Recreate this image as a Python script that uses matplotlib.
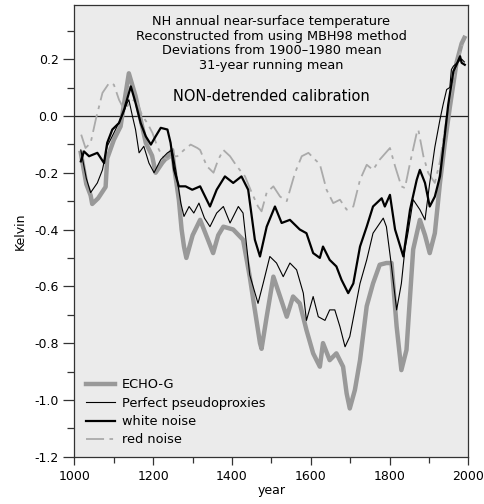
import matplotlib
matplotlib.use("Agg")
import matplotlib.pyplot as plt
from matplotlib.ticker import MultipleLocator

plt.rcParams['font.family'] = ['DejaVu Sans']

# ECHO-G model (thick grey)
echo_year = [1016, 1030, 1041, 1045, 1060, 1079, 1083, 1100, 1117, 1130, 1138, 1155, 1168,
             1181, 1197, 1206, 1223, 1240, 1248, 1253, 1265, 1272, 1278, 1284, 1300, 1319,
             1340, 1352, 1365, 1378, 1403, 1428, 1445, 1454, 1471, 1475, 1488, 1505, 1522,
             1539, 1555, 1572, 1589, 1606, 1623, 1631, 1648, 1665, 1682, 1691, 1699, 1712,
             1725, 1742, 1758, 1775, 1792, 1805, 1818, 1830, 1843, 1852, 1860, 1877, 1890,
             1902, 1915, 1928, 1940, 1953, 1970, 1983, 1990]
echo_val = [-0.13, -0.24, -0.28, -0.31, -0.29, -0.25, -0.15, -0.084, -0.037, 0.08, 0.15, 0.07,
            -0.013, -0.095, -0.14, -0.2, -0.165, -0.137, -0.12, -0.18, -0.295, -0.40, -0.46,
            -0.50, -0.42, -0.366, -0.44, -0.483, -0.42, -0.39, -0.40, -0.436, -0.566, -0.648,
            -0.80, -0.82, -0.707, -0.566, -0.636, -0.707, -0.636, -0.66, -0.754, -0.836, -0.883,
            -0.80, -0.86, -0.836, -0.883, -0.977, -1.03, -0.965, -0.86, -0.67, -0.59, -0.524,
            -0.518, -0.518, -0.742, -0.895, -0.824, -0.636, -0.47, -0.366, -0.42, -0.483,
            -0.413, -0.236, -0.10, 0.03, 0.187, 0.255, 0.275]

# Perfect pseudoproxies (thin black)
perf_year = [1016, 1030, 1041, 1058, 1071, 1083, 1100, 1121, 1134, 1138, 1147, 1155, 1164,
             1176, 1189, 1202, 1219, 1236, 1248, 1257, 1270, 1278, 1291, 1303, 1316, 1330,
             1344, 1361, 1378, 1395, 1416, 1428, 1445, 1466, 1479, 1496, 1513, 1530, 1547,
             1564, 1581, 1589, 1606, 1619, 1636, 1648, 1661, 1674, 1687, 1699, 1712, 1725,
             1742, 1758, 1784, 1792, 1805, 1818, 1830, 1839, 1847, 1860, 1877, 1890, 1902,
             1915, 1928, 1936, 1945, 1953, 1957, 1962, 1974, 1983, 1990]
perf_val = [-0.12, -0.22, -0.27, -0.236, -0.19, -0.107, -0.06, 0.0, 0.046, 0.057, 0.0, -0.048,
            -0.13, -0.107, -0.166, -0.2, -0.154, -0.13, -0.12, -0.19, -0.307, -0.354, -0.319,
            -0.342, -0.307, -0.36, -0.39, -0.342, -0.319, -0.377, -0.319, -0.342, -0.56, -0.66,
            -0.59, -0.495, -0.518, -0.566, -0.518, -0.542, -0.624, -0.72, -0.636, -0.707, -0.72,
            -0.683, -0.683, -0.742, -0.813, -0.777, -0.683, -0.59, -0.507, -0.413, -0.36, -0.39,
            -0.53, -0.683, -0.59, -0.47, -0.41, -0.295, -0.33, -0.366, -0.236, -0.11, -0.013,
            0.04, 0.093, 0.10, 0.163, 0.175, 0.19, 0.20, 0.19]

# white noise (thick black)
white_year = [1016, 1024, 1037, 1058, 1075, 1083, 1096, 1113, 1126, 1143, 1155, 1168, 1181,
              1194, 1206, 1219, 1236, 1244, 1253, 1265, 1282, 1299, 1319, 1344, 1361, 1382,
              1403, 1424, 1441, 1458, 1471, 1488, 1509, 1526, 1547, 1572, 1589, 1606, 1623,
              1631, 1648, 1665, 1678, 1695, 1708, 1725, 1742, 1758, 1780, 1788, 1801, 1814,
              1835, 1852, 1869, 1877, 1890, 1902, 1915, 1928, 1940, 1949, 1962, 1970, 1979,
              1983, 1991]
white_val = [-0.16, -0.125, -0.142, -0.13, -0.166, -0.095, -0.048, -0.025, 0.022, 0.104, 0.046,
             -0.025, -0.072, -0.101, -0.072, -0.042, -0.048, -0.095, -0.19, -0.248, -0.248,
             -0.26, -0.248, -0.319, -0.26, -0.213, -0.236, -0.213, -0.26, -0.436, -0.495, -0.39,
             -0.319, -0.377, -0.366, -0.40, -0.413, -0.483, -0.50, -0.46, -0.507, -0.53, -0.577,
             -0.624, -0.59, -0.46, -0.39, -0.319, -0.29, -0.319, -0.278, -0.40, -0.495, -0.33,
             -0.225, -0.19, -0.236, -0.319, -0.284, -0.213, -0.07, 0.04, 0.157, 0.18, 0.21,
             0.187, 0.18]

# red noise (grey dash-dot)
red_year = [1017, 1028, 1041, 1054, 1071, 1088, 1100, 1113, 1126, 1134, 1147, 1160, 1172,
            1185, 1198, 1210, 1223, 1236, 1248, 1261, 1278, 1295, 1312, 1319, 1336, 1353,
            1365, 1378, 1395, 1412, 1433, 1450, 1466, 1475, 1488, 1505, 1522, 1539, 1560,
            1577, 1594, 1611, 1623, 1640, 1657, 1674, 1691, 1708, 1725, 1742, 1758, 1775,
            1801, 1814, 1830, 1839, 1852, 1869, 1873, 1886, 1898, 1915, 1928, 1940, 1953,
            1970, 1985]
red_val = [-0.066, -0.113, -0.095, -0.013, 0.081, 0.116, 0.11, 0.057, 0.022, 0.034, 0.057,
           0.046, 0.0, -0.025, -0.06, -0.107, -0.142, -0.154, -0.142, -0.142, -0.12, -0.101,
           -0.113, -0.12, -0.177, -0.2, -0.154, -0.12, -0.142, -0.177, -0.213, -0.27, -0.319,
           -0.336, -0.27, -0.248, -0.284, -0.30, -0.2, -0.142, -0.13, -0.154, -0.17, -0.26,
           -0.307, -0.295, -0.33, -0.319, -0.225, -0.172, -0.19, -0.154, -0.113, -0.177,
           -0.248, -0.254, -0.166, -0.06, -0.048, -0.142, -0.2, -0.236, -0.16, -0.05, 0.06,
           0.18, 0.25]

title_lines = ["NH annual near-surface temperature",
               "Reconstructed from using MBH98 method",
               "Deviations from 1900\u20131980 mean",
               "31-year running mean"]

fig = plt.figure(figsize=(4.85, 5.04), dpi=100)
ax = fig.add_axes([0.1536, 0.0938, 0.812, 0.896])
ax.set_facecolor('#ebebeb')

ax.axhline(0, color='#222222', lw=0.9, zorder=1)

ax.plot(echo_year, echo_val, color='#999999', lw=3.2, label='ECHO-G', zorder=2)
ax.plot(perf_year, perf_val, color='black', lw=0.8, label='Perfect pseudoproxies', zorder=4)
ax.plot(white_year, white_val, color='black', lw=1.6, label='white noise', zorder=3)
ax.plot(red_year, red_val, color='#aaaaaa', lw=1.3, dashes=(10, 3, 2, 3),
        label='red noise', zorder=2)

ax.set_xlim(1000, 2000)
ax.set_ylim(-1.2, 0.39)
ax.xaxis.set_major_locator(MultipleLocator(200))
ax.xaxis.set_minor_locator(MultipleLocator(100))
ax.yaxis.set_minor_locator(MultipleLocator(0.1))
ax.set_yticks([-1.2, -1.0, -0.8, -0.6, -0.4, -0.2, 0.0, 0.2])
ax.set_yticklabels(['-1.2', '-1.0', '-0.8', '-0.6', '-0.4', '-0.2', '0.0', '0.2'])
ax.tick_params(which='major', length=6, width=0.9, labelsize=9, color='#333333')
ax.tick_params(which='minor', length=4, width=0.9, color='#333333')
ax.tick_params(axis='y', which='major', length=8)
ax.tick_params(axis='y', which='minor', length=5)
for s in ax.spines.values():
    s.set_color('#333333')
    s.set_linewidth(0.9)

ax.set_xlabel('year', fontsize=9, labelpad=1)
ax.set_ylabel('Kelvin', fontsize=9, labelpad=5)

for i, t in enumerate(title_lines):
    ax.text(0.5, 0.978 - i * 0.0325, t, transform=ax.transAxes, ha='center', va='top',
            fontsize=9.3)
ax.text(0.5, 0.815, 'NON-detrended calibration', transform=ax.transAxes, ha='center',
        va='top', fontsize=10.5)

leg = ax.legend(loc='lower left', frameon=False, fontsize=9.3, handlelength=2.2,
                handletextpad=0.55, labelspacing=0.42, borderaxespad=0.5,
                bbox_to_anchor=(0.0, -0.003))

fig.savefig('out.png', dpi=100)
